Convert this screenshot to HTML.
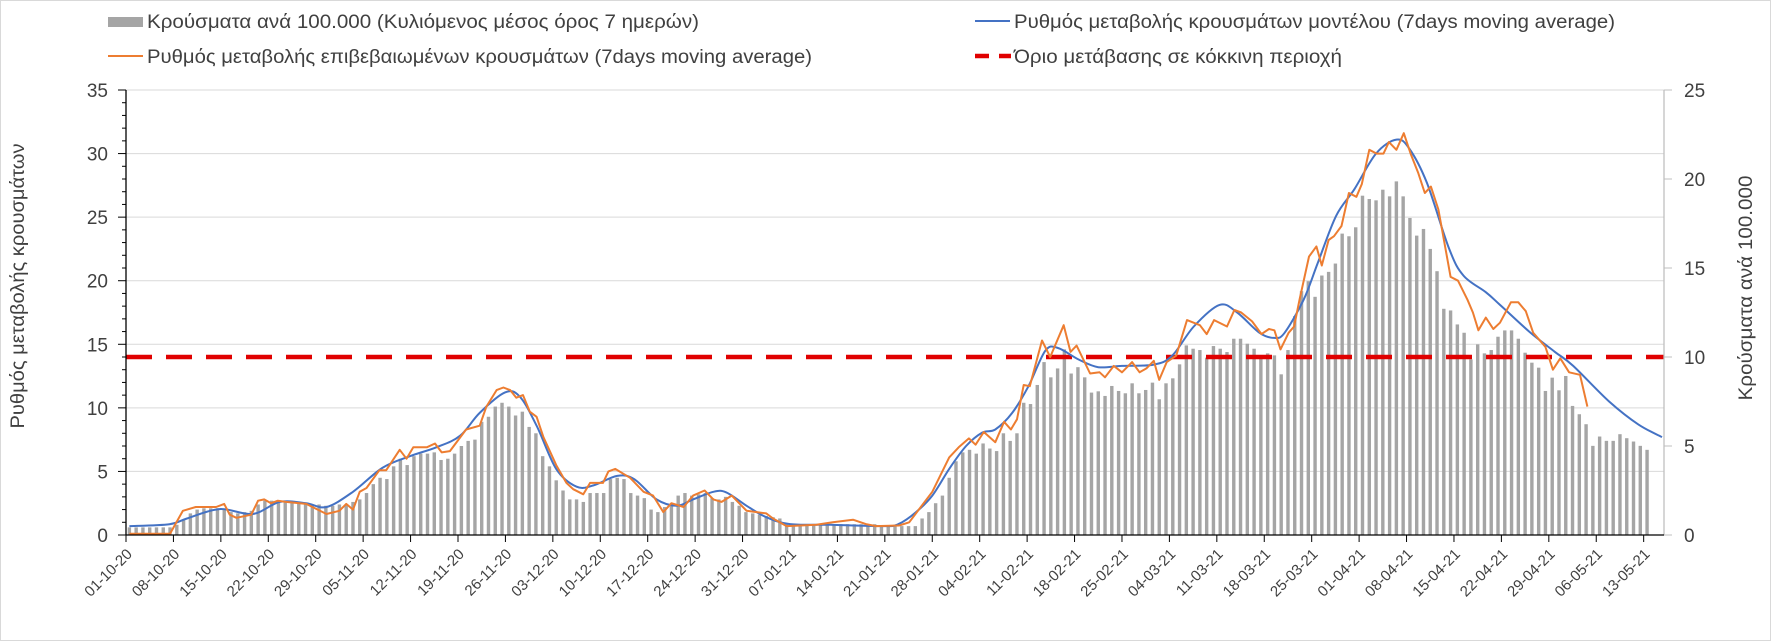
<!DOCTYPE html>
<html><head><meta charset="utf-8">
<style>
html,body{margin:0;padding:0;background:#fff;}
svg{display:block;}
text{font-family:"Liberation Sans",sans-serif;fill:#404040;}
</style></head>
<body>
<svg id="c" width="1771" height="641" xmlns="http://www.w3.org/2000/svg">
<rect x="0.5" y="0.5" width="1770" height="640" fill="#fff" stroke="#d9d9d9"/>
<g id="grid"></g>
<g id="bars" fill="#a5a5a5"></g>
<line x1="126" y1="357" x2="1664" y2="357" stroke="#e00000" stroke-width="4.5" stroke-dasharray="26,14"/>
<path id="blue" fill="none" stroke="#4472c4" stroke-width="2"/>
<polyline id="orange" fill="none" stroke="#ed7d31" stroke-width="2" stroke-linejoin="round"/>
<g id="axes"></g>
<!-- legend -->
<rect x="108" y="17" width="35" height="10" fill="#a5a5a5"/>
<text x="147" y="28" font-size="19" textLength="552" lengthAdjust="spacingAndGlyphs">Κρούσματα ανά 100.000 (Κυλιόμενος μέσος όρος 7 ημερών)</text>
<line x1="108" y1="56" x2="143" y2="56" stroke="#ed7d31" stroke-width="2"/>
<text x="147" y="63" font-size="19" textLength="665" lengthAdjust="spacingAndGlyphs">Ρυθμός μεταβολής επιβεβαιωμένων κρουσμάτων (7days moving average)</text>
<line x1="975" y1="21" x2="1010" y2="21" stroke="#4472c4" stroke-width="2"/>
<text x="1014" y="28" font-size="19" textLength="601" lengthAdjust="spacingAndGlyphs">Ρυθμός μεταβολής κρουσμάτων μοντέλου (7days moving average)</text>
<line x1="975" y1="56" x2="1011" y2="56" stroke="#e00000" stroke-width="4.5" stroke-dasharray="14,10"/>
<text x="1014" y="63" font-size="19" textLength="328" lengthAdjust="spacingAndGlyphs">Όριο μετάβασης σε κόκκινη περιοχή</text>
<text transform="translate(24,286) rotate(-90)" text-anchor="middle" font-size="19" textLength="285" lengthAdjust="spacingAndGlyphs">Ρυθμός μεταβολής κρουσμάτων</text>
<text transform="translate(1752,288) rotate(-90)" text-anchor="middle" font-size="19" textLength="225" lengthAdjust="spacingAndGlyphs">Κρούσματα ανά 100.000</text>
</svg>
<script>
var NS="http://www.w3.org/2000/svg";
var X0=126,X1=1664,Y0=535,YT=90,ND=227,DW=(X1-X0)/ND,PU=(Y0-YT)/35;
function el(p,t,a,txt){var e=document.createElementNS(NS,t);for(var k in a)e.setAttribute(k,a[k]);if(txt!=null)e.textContent=txt;document.getElementById(p).appendChild(e);return e;}
function xd(d){return X0+d*DW;}
function yv(v){return Y0-v*PU;}
// grid
for(var v=5;v<=35;v+=5)el("grid","line",{x1:X0,x2:X1,y1:yv(v),y2:yv(v),stroke:"#d9d9d9","stroke-width":1});
// bars
var b=[0.6,0.6,0.6,0.6,0.6,0.6,0.6,0.8,1.2,1.7,2.0,2.1,2.1,2.1,2.0,1.8,1.7,1.8,1.9,2.4,2.7,2.7,2.6,2.7,2.6,2.6,2.5,2.4,2.4,2.3,2.3,2.4,2.4,2.6,2.8,3.3,4.0,4.5,4.4,5.4,6.0,5.5,6.2,6.4,6.4,6.5,5.9,6.0,6.4,7.0,7.4,7.5,8.9,9.3,10.1,10.4,10.1,9.4,9.7,8.5,8.0,6.2,5.4,4.3,3.5,2.8,2.8,2.6,3.3,3.3,3.3,4.4,4.5,4.4,3.3,3.1,2.9,2.0,1.8,2.2,2.3,3.1,3.3,3.1,3.2,3.3,2.9,2.8,3.0,2.6,2.3,1.8,1.7,1.6,1.5,1.4,1.3,0.9];
for(var i=98;i<=110;i++)b.push(0.85);
for(i=111;i<=116;i++)b.push(0.7);
b=b.concat([1.3,1.8,2.5,3.1,4.5,5.8,6.5,6.7,6.4,7.2,6.8,6.6,8.0,7.4,8.0,10.4,10.3,11.8,13.6,12.4,13.1,14.6,12.7,13.2,12.4,11.2,11.3]);
var zy=[890,860,875,882,852,882,872,850,900,852,837,795,738,748,752,775,740,748,758,718,718,733,748,775,762,768,825,752,650,575,545,592,528,517,492,402,410,383,288,298,302,270,290,245,290,355,408,388,448,515,628,633,675,700,780,735,762,752,712,693,693,718,760,790,805,875,835,873,830,920,945,975,1040,1012,1025,1025,1005,1017,1027,1040,1052];
zy.forEach(function(z){b.push((436-z/3)/12.74);});
for(i=0;i<b.length&&i<ND;i++){var h=b[i]*PU;el("bars","rect",{x:(xd(i+0.5)-1.7).toFixed(2),y:(Y0-h).toFixed(2),width:3.4,height:h.toFixed(2)});}
// blue
var B=[[0.5,0.7],[6.4,0.85],[9,1.3],[13.8,2.04],[18.7,1.65],[22.7,2.6],[26.6,2.5],[29.6,2.2],[33.5,3.4],[37.9,5.3],[41.9,6.2],[45.8,6.9],[49.3,7.8],[52.2,9.6],[55.9,11.2],[58.1,10.9],[60.6,8.6],[63.5,5.2],[66.5,3.8],[69,3.9],[72.5,4.65],[75,4.4],[78.3,2.8],[81.3,2.3],[83.7,2.8],[86.7,3.4],[88.6,3.35],[91.6,2.3],[94.5,1.4],[98,0.86],[104,0.8],[111.7,0.7],[114,0.86],[116.6,1.8],[119,3.1],[121.5,5.2],[124,7.0],[126.4,8.06],[128.3,8.3],[130.8,9.6],[133.2,11.7],[135.7,14.5],[137.6,14.7],[140.6,13.8],[143.5,13.2],[147,13.3],[151.7,13.4],[154.4,14.1],[157.6,16.4],[161.4,18.1],[164,17.5],[167.3,15.9],[169.5,15.5],[171,15.9],[173.8,18.5],[175.9,21.4],[178.6,25.1],[181.3,27.2],[184.5,30.0],[187.5,31.1],[189.4,30.4],[192,27.7],[195.3,22.5],[197.4,20.4],[200.7,19.1],[202.8,18.1],[207.1,16.0],[210.9,14.4],[213.6,13.3],[218.9,10.5],[223.2,8.7],[226.7,7.7]];
var P=B.map(function(p){return [xd(p[0]),yv(p[1])];});
var d="M"+P[0][0].toFixed(1)+","+P[0][1].toFixed(1);
for(i=0;i<P.length-1;i++){var p0=P[Math.max(0,i-1)],p1=P[i],p2=P[i+1],p3=P[Math.min(P.length-1,i+2)];
var c1=[p1[0]+(p2[0]-p0[0])/6,p1[1]+(p2[1]-p0[1])/6],c2=[p2[0]-(p3[0]-p1[0])/6,p2[1]-(p3[1]-p1[1])/6];
d+=" C"+c1[0].toFixed(1)+","+c1[1].toFixed(1)+" "+c2[0].toFixed(1)+","+c2[1].toFixed(1)+" "+p2[0].toFixed(1)+","+p2[1].toFixed(1);}
document.getElementById("blue").setAttribute("d",d);
// orange
var O=[[0.5,0.1],[6.5,0.1],[8.4,1.9],[10.3,2.2],[13.3,2.2],[14.5,2.45],[15.3,1.6],[16.3,1.35],[18.5,1.6],[19.5,2.7],[20.4,2.8],[21.4,2.5],[22.4,2.7],[23.6,2.6],[26.6,2.45],[29.6,1.65],[31.5,1.9],[32.5,2.45],[33.5,2.0],[34.5,3.4],[35.5,3.7],[37.4,5.1],[38.4,5.1],[40.4,6.7],[41.4,6.0],[42.4,6.9],[44.4,6.9],[45.6,7.2],[46.6,6.5],[47.8,6.6],[50.2,8.3],[52.2,8.6],[53.2,10.1],[54.7,11.4],[55.7,11.6],[56.7,11.4],[57.6,10.8],[58.6,11.0],[59.6,9.7],[60.6,9.3],[61.6,7.7],[63.5,5.5],[65,4.1],[66,3.6],[67.5,3.2],[68.5,4.1],[70.4,4.1],[71.2,5.0],[72.2,5.2],[74.4,4.5],[76.4,3.4],[77.8,3.1],[79.3,1.8],[80.5,2.5],[82.3,2.2],[83.7,3.1],[85.4,3.5],[86.7,2.8],[87.9,2.6],[89.4,3.1],[91.6,1.9],[94.5,1.7],[95.5,1.3],[97.5,0.7],[101.9,0.8],[104.3,1.0],[107.3,1.2],[109.2,0.86],[110.7,0.7],[114.1,0.75],[115.6,1.0],[119,3.4],[121.5,6.1],[122.9,6.9],[124.4,7.6],[125.4,7.1],[126.6,8.1],[128.3,7.3],[129.6,8.9],[130.6,8.3],[131.5,9.1],[132.5,11.8],[133.4,11.7],[135.2,15.3],[136.4,14.0],[138.4,16.5],[139.4,14.4],[140.3,14.9],[142.3,12.7],[143.7,12.8],[144.5,12.4],[145.8,13.3],[147,12.8],[148.5,13.6],[149.6,12.8],[150.6,13.1],[151.7,13.7],[152.5,12.2],[153.6,13.6],[155,14.1],[156.6,16.9],[158.5,16.5],[159.5,15.8],[160.6,16.9],[162.5,16.4],[163.6,17.7],[164.6,17.5],[166.2,16.8],[167.6,15.8],[168.7,16.2],[169.5,16.1],[170.4,14.6],[171.6,15.9],[172.4,16.4],[173.2,18.5],[174.6,21.9],[175.7,22.7],[176.5,21.2],[177.5,23.2],[178.3,23.5],[179.4,24.3],[180.5,26.9],[181.6,26.6],[182.4,27.6],[183.5,30.3],[184.6,30.0],[185.6,30.0],[186.4,30.9],[187.5,30.3],[188.6,31.6],[189.6,30.0],[190.7,28.5],[191.7,26.9],[192.6,27.4],[193.7,25.6],[195.5,20.3],[196.6,20.0],[198,18.5],[198.8,17.5],[199.6,16.1],[200.7,17.1],[201.8,16.2],[202.8,16.7],[204.4,18.3],[205.5,18.3],[206.6,17.6],[207.7,15.9],[209.5,14.8],[210.6,13.0],[211.7,13.9],[213,12.8],[214.6,12.6],[215.7,10.1]];
document.getElementById("orange").setAttribute("points",O.map(function(p){return xd(p[0]).toFixed(1)+","+yv(p[1]).toFixed(1);}).join(" "));
// axes
el("axes","line",{x1:X0,x2:X0,y1:YT,y2:Y0,stroke:"#000","stroke-width":1.3});
el("axes","line",{x1:X1,x2:X1,y1:YT,y2:Y0,stroke:"#bfbfbf","stroke-width":1.3});
el("axes","line",{x1:X0,x2:X1,y1:Y0,y2:Y0,stroke:"#000","stroke-width":1.3});
for(v=0;v<=35;v++){var y=yv(v);el("axes","line",{x1:(v%5?X0-4:X0-8),x2:X0,y1:y,y2:y,stroke:"#000","stroke-width":1});
if(v%5==0)el("axes","text",{x:108,y:y+7,"text-anchor":"end","font-size":19},String(v));}
for(v=0;v<=25;v+=5){y=Y0-v*(Y0-YT)/25;el("axes","line",{x1:X1,x2:X1+8,y1:y,y2:y,stroke:"#bfbfbf","stroke-width":1});
el("axes","text",{x:1684,y:y+7,"font-size":19},String(v));}
var start=new Date(2020,9,1);
for(var k=0;k<=224;k+=7){var x=xd(k);el("axes","line",{x1:x,x2:x,y1:Y0,y2:Y0+7,stroke:"#000","stroke-width":1});
var dt=new Date(2020,9,1+k);var s=("0"+dt.getDate()).slice(-2)+"-"+("0"+(dt.getMonth()+1)).slice(-2)+"-"+String(dt.getFullYear()).slice(2);
el("axes","text",{transform:"translate("+(x+7).toFixed(1)+",555) rotate(-45)","text-anchor":"end","font-size":15},s);}
</script>
</body></html>
